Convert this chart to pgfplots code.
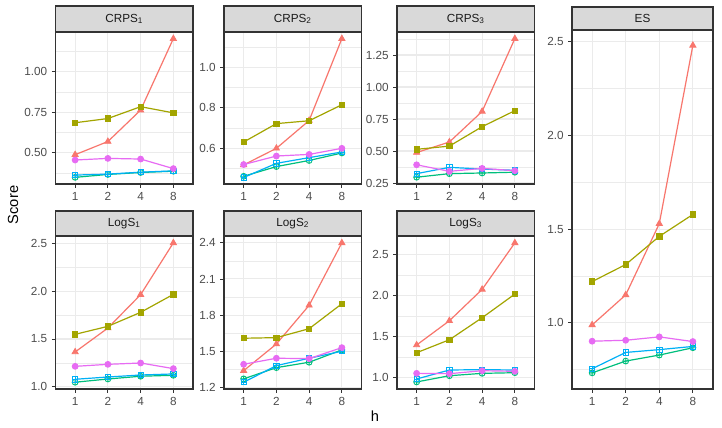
\documentclass[border=0pt]{standalone}
\usepackage{fontspec}
\setmainfont{Liberation Sans}
\usepackage{pgfplots}
\usepackage{pgfplotstable}
\pgfplotsset{compat=1.18}
\definecolor{cred}{HTML}{F8766D}
\definecolor{colive}{HTML}{A3A500}
\definecolor{cgreen}{HTML}{00BF7D}
\definecolor{cblue}{HTML}{00B0F6}
\definecolor{cmag}{HTML}{E76BF3}
\definecolor{grey10}{HTML}{1A1A1A}
\definecolor{grey20}{HTML}{333333}
\definecolor{grey30}{HTML}{4D4D4D}
\definecolor{grey85}{HTML}{D9D9D9}
\definecolor{grey92}{HTML}{EBEBEB}
\pgfdeclareplotmark{boxplus}{%
  \pgfpathrectangle{\pgfpoint{-\pgfplotmarksize}{-\pgfplotmarksize}}{\pgfpoint{2\pgfplotmarksize}{2\pgfplotmarksize}}%
  \pgfpathmoveto{\pgfpoint{-\pgfplotmarksize}{0pt}}\pgfpathlineto{\pgfpoint{\pgfplotmarksize}{0pt}}%
  \pgfpathmoveto{\pgfpoint{0pt}{-\pgfplotmarksize}}\pgfpathlineto{\pgfpoint{0pt}{\pgfplotmarksize}}%
  \pgfusepathqstroke}

\pgfplotstableread{
x r o g b m
1 0.488 0.685 0.348 0.362 0.455
2 0.569 0.711 0.366 0.368 0.465
3 0.763 0.784 0.378 0.380 0.461
4 1.204 0.746 0.386 0.388 0.402
}\tCa
\pgfplotstableread{
x r o g b m
1 0.518 0.631 0.462 0.456 0.520
2 0.600 0.722 0.510 0.526 0.562
3 0.737 0.736 0.540 0.554 0.570
4 1.141 0.815 0.577 0.582 0.600
}\tCb
\pgfplotstableread{
x r o g b m
1 0.488 0.513 0.295 0.323 0.392
2 0.570 0.538 0.323 0.372 0.341
3 0.809 0.690 0.328 0.359 0.364
4 1.378 0.815 0.334 0.349 0.346
}\tCc
\pgfplotstableread{
x r o g b m
1 0.989 1.220 0.733 0.755 0.902
2 1.149 1.311 0.796 0.842 0.907
3 1.529 1.461 0.828 0.857 0.925
4 2.480 1.578 0.867 0.874 0.900
}\tES
\pgfplotstableread{
x r o g b m
1 1.364 1.549 1.046 1.077 1.213
2 1.615 1.633 1.080 1.101 1.234
3 1.966 1.780 1.109 1.122 1.248
4 2.510 1.969 1.119 1.133 1.189
}\tLa
\pgfplotstableread{
x r o g b m
1 1.339 1.608 1.271 1.243 1.392
2 1.560 1.613 1.364 1.381 1.442
3 1.881 1.687 1.409 1.442 1.439
4 2.399 1.894 1.511 1.500 1.530
}\tLb
\pgfplotstableread{
x r o g b m
1 1.399 1.305 0.948 0.984 1.053
2 1.695 1.463 1.024 1.094 1.049
3 2.078 1.732 1.053 1.098 1.085
4 2.646 2.021 1.061 1.094 1.078
}\tLc

\newcommand\fiveseries[1]{%
  \addplot[cred, mark=triangle*, mark size=2.6pt] table[x=x,y=r]{#1};
  \addplot[colive, mark=square*, mark size=2.0pt] table[x=x,y=o]{#1};
  \addplot[cgreen, mark=oplus, mark size=2.2pt] table[x=x,y=g]{#1};
  \addplot[cblue, mark=boxplus, mark size=2.0pt] table[x=x,y=b]{#1};
  \addplot[cmag, mark=*, mark size=2.2pt] table[x=x,y=m]{#1};
}

\pgfplotsset{
  panel/.style={
    scale only axis,
    anchor=south west,
    xmin=0.4, xmax=4.6,
    xtick={1,2,3,4}, xticklabels={1,2,4,8},
    axis line style={draw=grey20, line width=0.85pt},
    tick style={draw=grey20, line width=0.6pt},
    tick align=outside,
    major tick length=2.75pt,
    minor tick length=0pt,
    xtick pos=bottom, ytick pos=left,
    grid=both,
    major grid style={draw=grey92, line width=0.8pt},
    minor grid style={draw=grey92, line width=0.4pt},
    ticklabel style={font=\fontsize{8.8}{10}\selectfont, text=grey30},
    /pgf/number format/assume math mode=true,
    /pgf/number format/fixed,
    /pgf/number format/fixed zerofill,
    every axis plot/.append style={line width=0.9pt, mark options={solid, line width=0.65pt}},
  },
}
\tikzset{
  strip/.style={draw=grey20, fill=grey85, line width=0.85pt},
  striptext/.style={font=\fontsize{8.8}{10}\selectfont, text=grey10},
}

\begin{document}
\begin{tikzpicture}
\useasboundingbox[fill=white] (0,0) rectangle (541.5pt,321pt);

% Row 1
\begin{axis}[panel, name=a1, at={(41.625pt,183pt)}, width=103.125pt, height=114pt,
  ymin=0.307, ymax=1.245, ytick={0.5,0.75,1.0}, minor ytick={0.375,0.625,0.875,1.125},
  yticklabel style={/pgf/number format/precision=2}]
\fiveseries{\tCa}
\end{axis}
\begin{axis}[panel, name=a2, at={(168pt,183pt)}, width=103.125pt, height=114pt,
  ymin=0.424, ymax=1.174, ytick={0.6,0.8,1.0}, minor ytick={0.5,0.7,0.9,1.1},
  yticklabel style={/pgf/number format/precision=1}]
\fiveseries{\tCb}
\end{axis}
\begin{axis}[panel, name=a3, at={(297.75pt,183pt)}, width=103.125pt, height=114pt,
  ymin=0.242, ymax=1.43, ytick={0.25,0.5,0.75,1.0,1.25}, minor ytick={0.375,0.625,0.875,1.125,1.375},
  yticklabel style={/pgf/number format/precision=2}]
\fiveseries{\tCc}
\end{axis}
% ES
\begin{axis}[panel, name=a4, at={(429pt,29.25pt)}, width=105.75pt, height=269.25pt,
  ymin=0.647, ymax=2.562, ytick={1.0,1.5,2.0,2.5}, minor ytick={0.75,1.25,1.75,2.25},
  yticklabel style={/pgf/number format/precision=1}]
\fiveseries{\tES}
\end{axis}
% Row 2
\begin{axis}[panel, name=a5, at={(41.625pt,29.25pt)}, width=103.125pt, height=114.75pt,
  ymin=0.975, ymax=2.582, ytick={1.0,1.5,2.0,2.5}, minor ytick={1.25,1.75,2.25},
  yticklabel style={/pgf/number format/precision=1}]
\fiveseries{\tLa}
\end{axis}
\begin{axis}[panel, name=a6, at={(168pt,29.25pt)}, width=103.125pt, height=114.75pt,
  ymin=1.187, ymax=2.456, ytick={1.2,1.5,1.8,2.1,2.4}, minor ytick={1.35,1.65,1.95,2.25},
  yticklabel style={/pgf/number format/precision=1}]
\fiveseries{\tLb}
\end{axis}
\begin{axis}[panel, name=a7, at={(297.75pt,29.25pt)}, width=103.125pt, height=114.75pt,
  ymin=0.862, ymax=2.73, ytick={1.0,1.5,2.0,2.5}, minor ytick={1.25,1.75,2.25},
  yticklabel style={/pgf/number format/precision=1}]
\fiveseries{\tLc}
\end{axis}

% strips
\foreach \n/\lab in {a1/CRPS\textsubscript{1}, a2/CRPS\textsubscript{2}, a3/CRPS\textsubscript{3}}{
  \draw[strip] (\n.north west) rectangle ([yshift=19.5pt]\n.north east);
  \node[striptext] at ([yshift=9.75pt]\n.north) {\lab};
}
\foreach \n/\lab in {a5/LogS\textsubscript{1}, a6/LogS\textsubscript{2}, a7/LogS\textsubscript{3}}{
  \draw[strip] (\n.north west) rectangle ([yshift=18.75pt]\n.north east);
  \node[striptext] at ([yshift=9.375pt]\n.north) {\lab};
}
\draw[strip] (a4.north west) rectangle ([yshift=17.25pt]a4.north east);
\node[striptext] at ([yshift=8.625pt]a4.north) {ES};

% axis titles
\node[rotate=90, font=\fontsize{11}{13}\selectfont] at (9.75pt,167.25pt) {Score};
\node[font=\fontsize{11}{13}\selectfont] at (281.25pt,8.5pt) {h};
\end{tikzpicture}
\end{document}
